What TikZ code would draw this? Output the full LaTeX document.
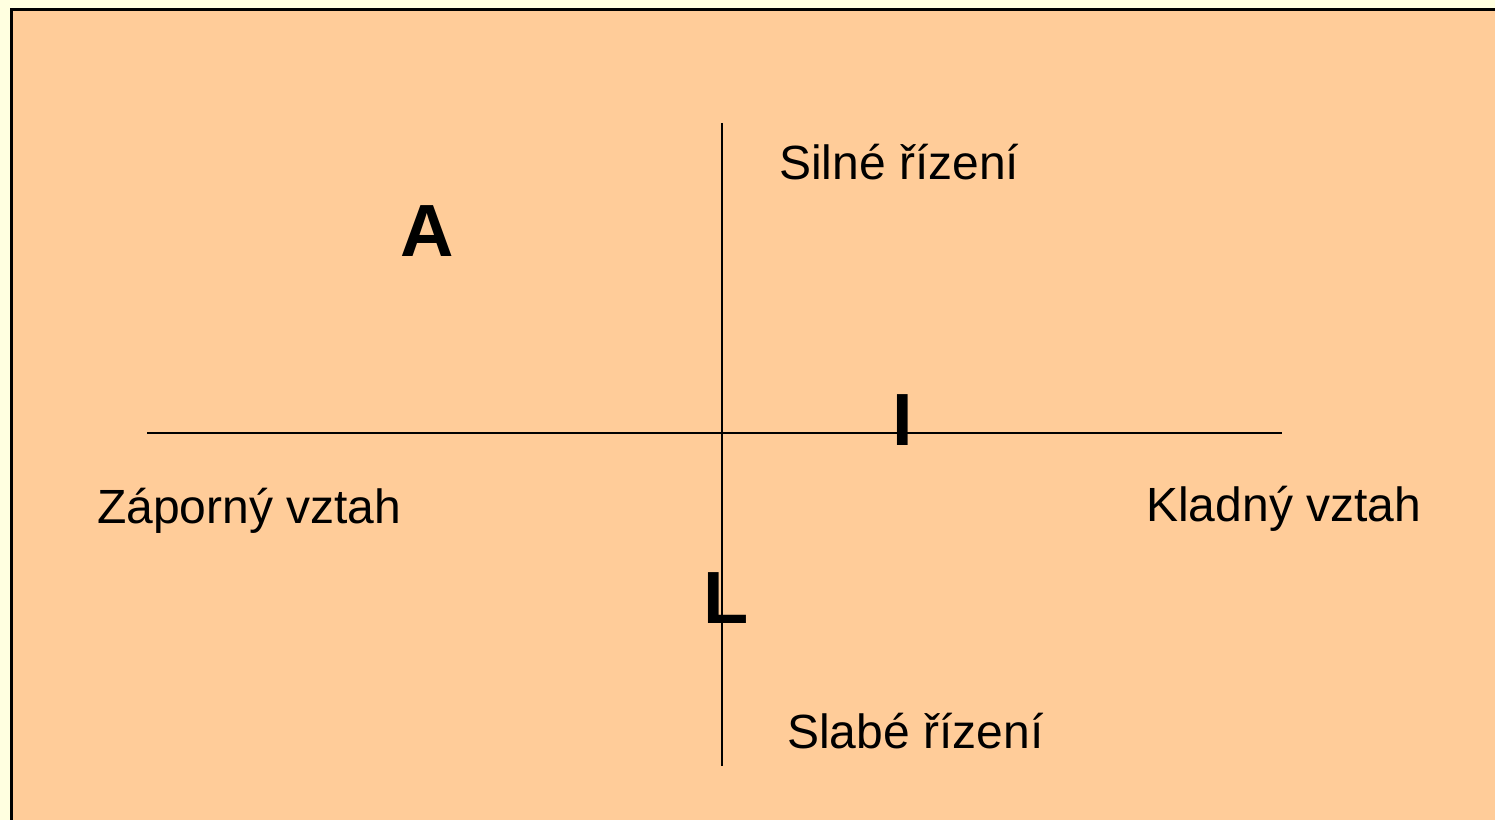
\documentclass[tikz,border=0pt]{standalone}
\usepackage{fontspec}
\setmainfont{Liberation Sans}
\definecolor{outerbg}{HTML}{FFFFE0}
\definecolor{panel}{HTML}{FFCC99}
\begin{document}
\begin{tikzpicture}[x=0.75pt,y=-0.75pt,
  lbl/.style={anchor=base west,inner sep=0pt,font=\fontsize{36pt}{40pt}\selectfont},
  big/.style={anchor=base,inner sep=0pt,font=\fontsize{55.5pt}{60pt}\selectfont\bfseries},
  axis/.style={line width=1.5pt,black}]
\useasboundingbox (0,0) rectangle (1495,820);
\clip (0,0) rectangle (1495,820);
\fill[outerbg] (0,0) rectangle (1495,820);
\draw[fill=panel,line width=2.25pt] (11,10) rectangle (1510,840);
\coordinate (vtop) at (722,123);
\coordinate (vbot) at (722,766);
\coordinate (hleft) at (147,433);
\coordinate (hright) at (1282,433);
\draw[axis] (vtop) -- (vbot);
\draw[axis] (hleft) -- (hright);
\node[lbl] (silne) at (779,180) {Silné řízení};
\node[lbl] (zaporny) at (97,523) {Záporný vztah};
\node[lbl] (kladny) at (1146,521) {Kladný vztah};
\node[lbl] (slabe) at (787,748) {Slabé řízení};
\node[big] (A) at (427,256) {A};
\node[big] (I) at (903,445) {I};
\node[big,anchor=base west] (L) at (703,623) {L};
\end{tikzpicture}
\end{document}
